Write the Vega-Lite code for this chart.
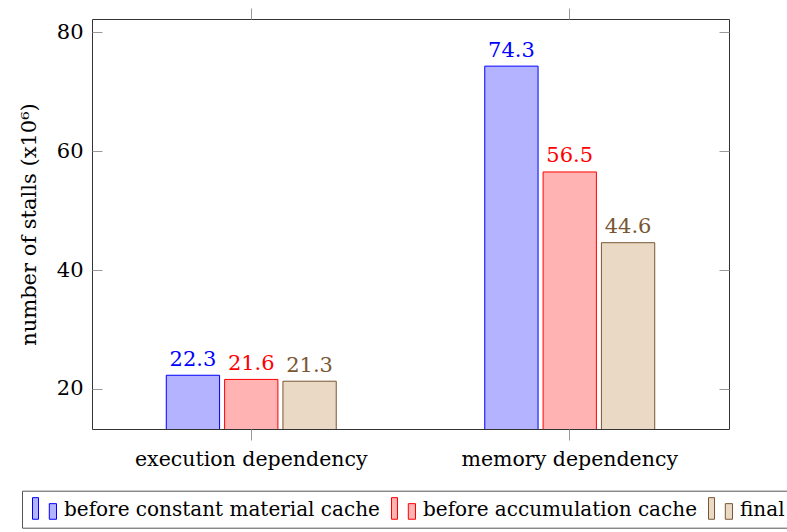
{
  "$schema": "https://vega.github.io/schema/vega-lite/v6.json",
  "width": 637,
  "height": 410,
  "autosize": "none",
  "padding": {"left": 92, "top": 19, "right": 58, "bottom": 103},
  "config": {
    "view": {"stroke": "#333", "strokeWidth": 1},
    "font": "DejaVu Serif"
  },
  "data": {
    "values": [
      {"category": "execution dependency", "series": "before constant material cache", "value": 22.3},
      {"category": "execution dependency", "series": "before accumulation cache", "value": 21.6},
      {"category": "execution dependency", "series": "final", "value": 21.3},
      {"category": "memory dependency", "series": "before constant material cache", "value": 74.3},
      {"category": "memory dependency", "series": "before accumulation cache", "value": 56.5},
      {"category": "memory dependency", "series": "final", "value": 44.6}
    ]
  },
  "layer": [
    {
      "mark": {"type": "bar", "strokeWidth": 1, "clip": true},
      "encoding": {
        "x": {
          "field": "category", "type": "nominal",
          "sort": ["execution dependency", "memory dependency"],
          "scale": {"paddingInner": 0.4663, "paddingOuter": 0.2332},
          "axis": {"orient": "bottom", "title": null, "labelAngle": 0, "tickSize": 11, "tickColor": "#999", "labelPadding": 9, "domain": false, "labelFontSize": 20.5, "labelColor": "black", "labelFont": "DejaVu Serif", "labelLimit": 600, "grid": false}
        },
        "xOffset": {
          "field": "series", "type": "nominal",
          "scale": {"domain": ["before constant material cache", "before accumulation cache", "final"], "paddingInner": 0.0858, "paddingOuter": 0}
        },
        "y": {
          "field": "value", "type": "quantitative",
          "scale": {"domain": [13.26, 82.23], "nice": false, "zero": false},
          "axis": {"orient": "left", "values": [20, 40, 60, 80], "tickSize": -10, "tickColor": "#999", "labelPadding": 19, "domain": false, "grid": false, "labelFontSize": 21, "labelColor": "black", "labelFont": "DejaVu Serif", "title": "number of stalls (x10⁶)", "titleFontSize": 21, "titleFont": "DejaVu Serif", "titleFontWeight": "normal", "titleColor": "black", "titlePadding": 17}
        },
        "fill": {
          "field": "series", "type": "nominal",
          "scale": {"domain": ["before constant material cache", "before accumulation cache", "final"], "range": ["#b3b3ff", "#ffb3b3", "#ead9c4"]},
          "legend": {"orient": "none", "legendX": -70, "legendY": 471.7, "direction": "horizontal", "columns": 3, "title": null, "symbolType": "M-1,-1H-0.5V0.8H-1Z M0.4,-0.5H1V0.8H0.4Z", "symbolSize": 576, "symbolStrokeWidth": 1, "symbolOffset": 4, "labelOffset": 7, "labelFontSize": 20, "labelFont": "DejaVu Serif", "labelColor": "black", "columnPadding": 7, "padding": 6, "strokeColor": "#555", "labelLimit": 600}
        },
        "stroke": {
          "field": "series", "type": "nominal",
          "scale": {"domain": ["before constant material cache", "before accumulation cache", "final"], "range": ["#0000ff", "#ff0000", "#7a5634"]},
          "legend": {"orient": "none", "legendX": -70, "legendY": 471.7, "direction": "horizontal", "columns": 3, "title": null, "symbolType": "M-1,-1H-0.5V0.8H-1Z M0.4,-0.5H1V0.8H0.4Z", "symbolSize": 576, "symbolStrokeWidth": 1, "symbolOffset": 4, "labelOffset": 7, "labelFontSize": 20, "labelFont": "DejaVu Serif", "labelColor": "black", "columnPadding": 7, "padding": 6, "strokeColor": "#555", "labelLimit": 600}
        }
      }
    },
    {
      "mark": {"type": "text", "baseline": "alphabetic", "dy": -9.5, "fontSize": 21, "font": "DejaVu Serif"},
      "encoding": {
        "x": {
          "field": "category", "type": "nominal",
          "sort": ["execution dependency", "memory dependency"],
          "scale": {"paddingInner": 0.4663, "paddingOuter": 0.2332},
          "axis": {"orient": "top", "title": null, "labels": false, "tickSize": 11, "tickColor": "#999", "domain": false, "grid": false}
        },
        "xOffset": {
          "field": "series", "type": "nominal",
          "scale": {"domain": ["before constant material cache", "before accumulation cache", "final"], "paddingInner": 0.0858, "paddingOuter": 0}
        },
        "y": {
          "field": "value", "type": "quantitative",
          "scale": {"domain": [13.26, 82.23], "nice": false, "zero": false},
          "axis": {"orient": "right", "values": [20, 40, 60, 80], "tickSize": -10, "tickColor": "#999", "labels": false, "domain": false, "grid": false, "title": null}
        },
        "text": {"field": "value", "type": "quantitative", "format": ".1f"},
        "color": {
          "field": "series", "type": "nominal",
          "scale": {"domain": ["before constant material cache", "before accumulation cache", "final"], "range": ["#0000ff", "#ff0000", "#7a5634"]},
          "legend": null
        }
      }
    }
  ],
  "resolve": {"axis": {"x": "independent", "y": "independent"}}
}
